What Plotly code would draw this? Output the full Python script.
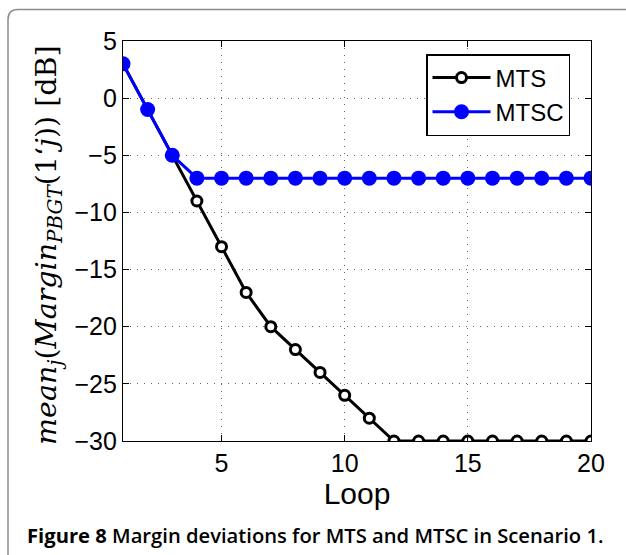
import plotly.graph_objects as go

loops = list(range(1, 21))
mts = [3, -1, -5, -9, -13, -17, -20, -22, -24, -26, -28, -30, -30, -30, -30, -30, -30, -30, -30, -30]
mtsc = [3, -1, -5, -7, -7, -7, -7, -7, -7, -7, -7, -7, -7, -7, -7, -7, -7, -7, -7, -7]
x_ticks = [5, 10, 15, 20]
y_ticks = [5, 0, -5, -10, -15, -20, -25, -30]

W, H = 626, 555
ML, MR, MT, MB = 123, 35, 41, 114
PW, PH = W - ML - MR, H - MT - MB


def px(x):
    return (x - ML) / PW


def py(y):
    return 1 - (y - MT) / PH


fig = go.Figure()
fig.add_trace(go.Scatter(
    x=loops, y=mts, name="MTS", mode="lines+markers",
    line=dict(color="black", width=3),
    marker=dict(symbol="circle", size=10, color="white", line=dict(color="black", width=3)),
))
fig.add_trace(go.Scatter(
    x=loops, y=mtsc, name="MTSC", mode="lines+markers",
    line=dict(color="#0000ff", width=3),
    marker=dict(symbol="circle", size=15, color="#0000ff"),
))

axis_common = dict(
    showline=True, linecolor="black", linewidth=1.3, mirror="ticks",
    ticks="inside", ticklen=6, tickcolor="black",
    showgrid=True, gridcolor="#666666", griddash="1px,6px", gridwidth=1,
    zeroline=False,
    tickfont=dict(family="Liberation Sans, Arial", size=25, color="black"),
)
fig.update_xaxes(range=[1, 20], tickvals=x_ticks, **axis_common,
                 title=dict(text="Loop", font=dict(family="Liberation Sans, Arial", size=30, color="black"),
                            standoff=2))
fig.update_yaxes(range=[-30, 5], tickvals=y_ticks, **axis_common)

# outer rounded frame
x0, y0 = px(8), py(9.5)
x1, y1 = px(660), py(600)
r = 10
fig.add_shape(
    type="path", xref="paper", yref="paper",
    path=(f"M {x0} {y1} L {x0} {py(9.5 + r)} Q {x0} {y0} {px(8 + r)} {y0} L {x1} {y0}"),
    line=dict(color="#8c8c8c", width=1.5),
)

fig.add_annotation(
    xref="paper", yref="paper", x=px(48), y=py(245), xanchor="center", yanchor="middle",
    textangle=-90, showarrow=False,
    text="<i>mean</i><sub><i>j</i></sub>(<i>Margin</i><sub><i>PBGT</i></sub>(1\u2018<i>j</i>)) [dB]",
    font=dict(family="DejaVu Serif, Liberation Serif, serif", size=28.5, color="black"),
)

fig.add_annotation(
    xref="paper", yref="paper", x=px(25), y=py(535), xanchor="left", yanchor="middle",
    showarrow=False,
    text="<b>Figure 8</b> <span style=\"font-weight:600\">Margin deviations for MTS and MTSC in Scenario 1.</span>",
    font=dict(family="Open Sans, Noto Sans", size=20.2, color="black"),
)

fig.update_layout(
    width=W, height=H,
    margin=dict(l=ML, r=MR, t=MT, b=MB),
    paper_bgcolor="white", plot_bgcolor="white",
    showlegend=True,
    legend=dict(
        x=px(426), y=py(54), xanchor="left", yanchor="top",
        bordercolor="black", borderwidth=1.5, bgcolor="white",
        font=dict(family="Liberation Sans, Arial", size=24, color="black"),
        itemwidth=58, tracegroupgap=0,
    ),
)

fig.write_html("out.html", config={"displayModeBar": False},
               post_script="document.body.style.margin='0';")
